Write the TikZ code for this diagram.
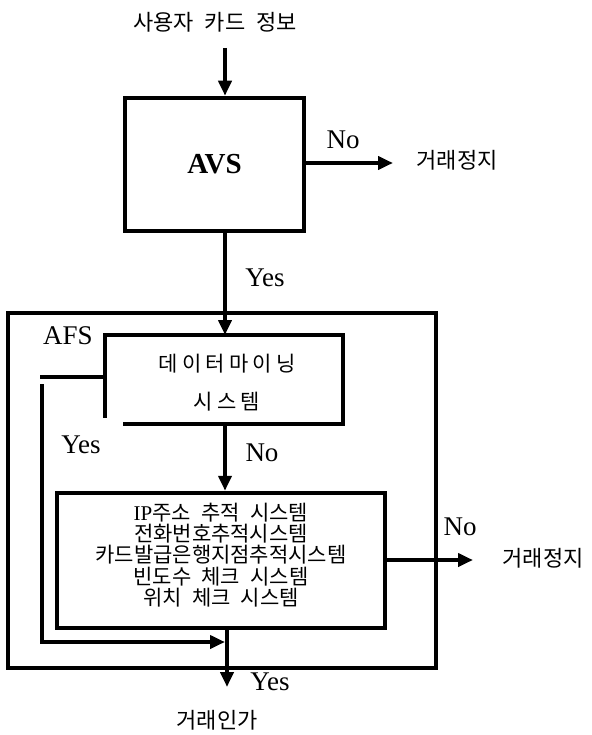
\documentclass[tikz,border=0pt]{standalone}
\usepackage{fontspec}
\setmainfont{Liberation Serif}
\newfontfamily\kr[WordSpace=2.2]{Noto Sans CJK KR}
\newfontfamily\krw[LetterSpace=20]{Noto Sans CJK KR}
\usetikzlibrary{arrows.meta}
\begin{document}
\begin{tikzpicture}[x=1pt,y=-1pt,
  line/.style={line width=4pt},
  arr/.style={line width=4pt,line join=miter,-{Triangle[length=15pt,width=13pt]}},
  box/.style={draw,line width=4.5pt,inner sep=0pt},
  lat/.style={font=\fontsize{27}{30}\selectfont,inner sep=0pt},
  kor/.style={font=\kr\fontsize{22}{26}\selectfont,inner sep=0pt}]
\useasboundingbox (0,0) rectangle (591,735);
% input
\node[kor] (src) at (215,22) {사용자 카드 정보};
\coordinate (a1) at (225,48);
% AVS
\node[box,minimum width=179pt,minimum height=133pt,font=\fontsize{29}{32}\selectfont\bfseries] (avs) at (214.5,164.5) {AVS};
\draw[arr] (a1) -- (a1 |- avs.north);
\coordinate (stop1) at (393,163);
\draw[arr] (avs.east |- stop1) -- (stop1);
\node[lat] (no1) at (343,140) {No};
\node[kor] (stop1t) at (457,160) {거래정지};
% AFS
\node[box,minimum width=428pt,minimum height=355pt] (afs) at (222,490.5) {};
\node[lat] (afst) at (68,336) {AFS};
% data mining
\node[inner sep=0pt,outer sep=0pt,minimum width=238pt,minimum height=89pt] (dm) at (224,379.5) {};
\node[inner sep=0pt,font=\krw\fontsize{21}{25}\selectfont,align=center] (dmt) at (227,382.5) {데이터마이닝\\[13pt]시스템};
\draw[line,line join=miter] ([xshift=18pt]dm.south west) -- (dm.south east) -- (dm.north east) -- (dm.north west) -- ([yshift=6pt]dm.south west);
\draw[arr] (avs.south -| a1) -- (a1 |- dm.north);
\node[lat] (yes1) at (265,278) {Yes};
% Yes path on the left
\coordinate (stubL) at (40,377);
\draw[line] (dm.west |- stubL) -- (stubL);
\coordinate (vtop) at (42,384);
\coordinate (vbot) at (42,642);
\coordinate (yes3) at (227,687);
\draw[arr] (vtop) -- (vbot) -- ([xshift=-2pt]vbot -| yes3);
\node[lat] (yes2) at (81,445) {Yes};
% bottom box
\node[box,minimum width=328pt,minimum height=135pt] (bb) at (221,560.5) {};
\node[font=\kr\fontsize{21}{21.3}\selectfont,align=center,inner sep=0pt] (bbt) at (221,555)
  {{\rmfamily IP}주소 추적 시스템\\전화번호추적시스템\\카드발급은행지점추적시스템\\빈도수 체크 시스템\\위치 체크 시스템};
\draw[arr] (dm.south -| a1) -- (a1 |- bb.north);
\node[lat] (no2) at (262,453) {No};
\coordinate (stop2) at (473,560);
\draw[arr] (bb.east |- stop2) -- (stop2);
\node[lat] (no3) at (460,527) {No};
\node[kor] (stop2t) at (543,558) {거래정지};
\draw[arr] (bb.south -| yes3) -- (yes3);
\node[lat] (yes4) at (270,682) {Yes};
\node[kor] (ok) at (217,720) {거래인가};
\end{tikzpicture}
\end{document}
